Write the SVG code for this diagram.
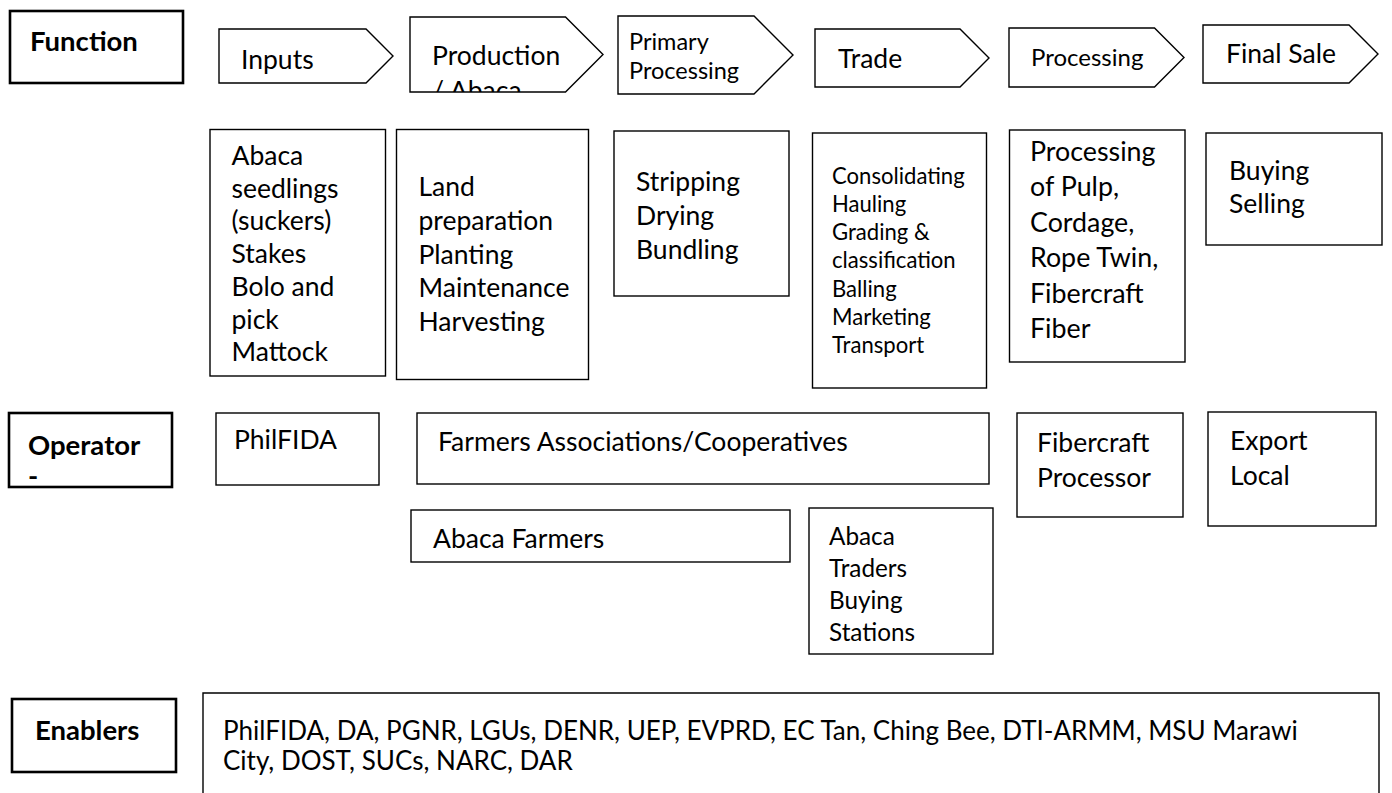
<svg xmlns="http://www.w3.org/2000/svg" width="1392" height="793" viewBox="0 0 1392 793">
<style>
  .lbl{fill:#fff;stroke:#000;stroke-width:2.6}
  .box{fill:#fff;stroke:#000;stroke-width:1.4}
  text{font-family:Lato,"Open Sans",sans-serif;fill:#000}
  .b{font-weight:bold;font-size:27.5px}
  .t{font-size:26.5px}
  .s{font-size:23.5px}
  .d{font-size:22.1px}
  .m{font-size:24.3px}
  .e{font-size:26.8px}
  .n{font-size:26px}
</style>
<defs>
  <clipPath id="clipProd"><path d="M410,17 H565.5 L603,54.5 L565.5,92 H410 Z"/></clipPath>
</defs>
<rect width="1392" height="793" fill="#fff"/>

<g id="label-function"><rect class="lbl" x="10" y="11" width="173" height="72"/><text class="b" x="30" y="51">Function</text></g>
<g id="label-operator"><rect class="lbl" x="9" y="413" width="163" height="74"/><text class="b" x="28" y="455">Operator</text><text class="b" x="28" y="486">-</text></g>
<g id="label-enablers"><rect class="lbl" x="12" y="699" width="164" height="73"/><text class="b" x="35" y="740">Enablers</text></g>

<g id="fn-inputs"><path class="box" d="M219,29 H366 L393,56 L366,83 H219 Z"/><text class="t" x="241" y="69">Inputs</text></g>
<g id="fn-production"><path class="box" d="M410,17 H565.5 L603,54.5 L565.5,92 H410 Z"/><g clip-path="url(#clipProd)"><text class="t" x="432" y="65">Production</text><text class="t" x="432" y="100">/ Abaca</text></g></g>
<g id="fn-primary"><path class="box" d="M618,16 H754 L793,55 L754,94 H618 Z"/><text class="s" x="629" y="50">Primary</text><text class="s" x="629" y="79">Processing</text></g>
<g id="fn-trade"><path class="box" d="M815,29 H960 L989,58 L960,87 H815 Z"/><text class="t" x="838" y="68">Trade</text></g>
<g id="fn-processing"><path class="box" d="M1009,28 H1154.5 L1184,57.5 L1154.5,87 H1009 Z"/><text class="s" x="1031" y="66" style="font-size:24px">Processing</text></g>
<g id="fn-finalsale"><path class="box" d="M1203,25 H1349 L1378,54 L1349,83 H1203 Z"/><text class="t" x="1226" y="63">Final Sale</text></g>

<g id="act-inputs"><rect class="box" x="210" y="129.5" width="175.5" height="246.5"/>
<text class="t"><tspan x="231.5" y="165">Abaca</tspan><tspan x="231.5" y="197.7">seedlings</tspan><tspan x="231.5" y="230.4">(suckers)</tspan><tspan x="231.5" y="263.1">Stakes</tspan><tspan x="231.5" y="295.8">Bolo and</tspan><tspan x="231.5" y="328.5">pick</tspan><tspan x="231.5" y="361.2">Mattock</tspan></text></g>
<g id="act-production"><rect class="box" x="396.5" y="129.5" width="192" height="250"/>
<text class="t"><tspan x="418.5" y="196">Land</tspan><tspan x="418.5" y="230">preparation</tspan><tspan x="418.5" y="263.5">Planting</tspan><tspan x="418.5" y="297">Maintenance</tspan><tspan x="418.5" y="331">Harvesting</tspan></text></g>
<g id="act-primary"><rect class="box" x="614" y="131" width="175" height="165"/>
<text class="t"><tspan x="636" y="191">Stripping</tspan><tspan x="636" y="225">Drying</tspan><tspan x="636" y="259">Bundling</tspan></text></g>
<g id="act-trade"><rect class="box" x="812.5" y="133" width="174" height="255"/>
<text class="d"><tspan x="832" y="183.5">Consolidating</tspan><tspan x="832" y="211.8">Hauling</tspan><tspan x="832" y="240.1">Grading &amp;</tspan><tspan x="832" y="268.4">classification</tspan><tspan x="832" y="296.7">Balling</tspan><tspan x="832" y="325">Marketing</tspan><tspan x="832" y="353.3">Transport</tspan></text></g>
<g id="act-processing"><rect class="box" x="1009.5" y="130" width="175.5" height="232"/>
<text class="e"><tspan x="1030" y="161">Processing</tspan><tspan x="1030" y="196.4">of Pulp,</tspan><tspan x="1030" y="231.8">Cordage,</tspan><tspan x="1030" y="267.2">Rope Twin,</tspan><tspan x="1030" y="302.6">Fibercraft</tspan><tspan x="1030" y="338">Fiber</tspan></text></g>
<g id="act-finalsale"><rect class="box" x="1206" y="133" width="176" height="112"/>
<text class="t"><tspan x="1229" y="180">Buying</tspan><tspan x="1229" y="213">Selling</tspan></text></g>

<g id="op-philfida"><rect class="box" x="216" y="413" width="163" height="72"/><text class="t" x="234" y="449">PhilFIDA</text></g>
<g id="op-farmers-assoc"><rect class="box" x="417" y="413" width="572" height="71"/><text class="t" x="438" y="451">Farmers Associations/Cooperatives</text></g>
<g id="op-abaca-farmers"><rect class="box" x="411" y="510" width="379" height="52"/><text class="t" x="433" y="548">Abaca Farmers</text></g>
<g id="op-abaca-traders"><rect class="box" x="809" y="508" width="184" height="146"/>
<text class="m"><tspan x="829" y="545">Abaca</tspan><tspan x="829" y="577">Traders</tspan><tspan x="829" y="609">Buying</tspan><tspan x="829" y="641">Stations</tspan></text></g>
<g id="op-fibercraft"><rect class="box" x="1017" y="413" width="166" height="104"/>
<text class="t"><tspan x="1037" y="452">Fibercraft</tspan><tspan x="1037" y="487">Processor</tspan></text></g>
<g id="op-export"><rect class="box" x="1208" y="412" width="168" height="114"/>
<text class="t"><tspan x="1230" y="450">Export</tspan><tspan x="1230" y="485">Local</tspan></text></g>

<g id="enablers-list"><path class="box" d="M203,800 V693 H1379 V800"/>
<text class="n"><tspan x="223" y="740">PhilFIDA, DA, PGNR, LGUs, DENR, UEP, EVPRD, EC Tan, Ching Bee, DTI-ARMM, MSU Marawi</tspan><tspan x="223" y="770">City, DOST, SUCs, NARC, DAR</tspan></text></g>

<g id="connectors"></g>
</svg>
